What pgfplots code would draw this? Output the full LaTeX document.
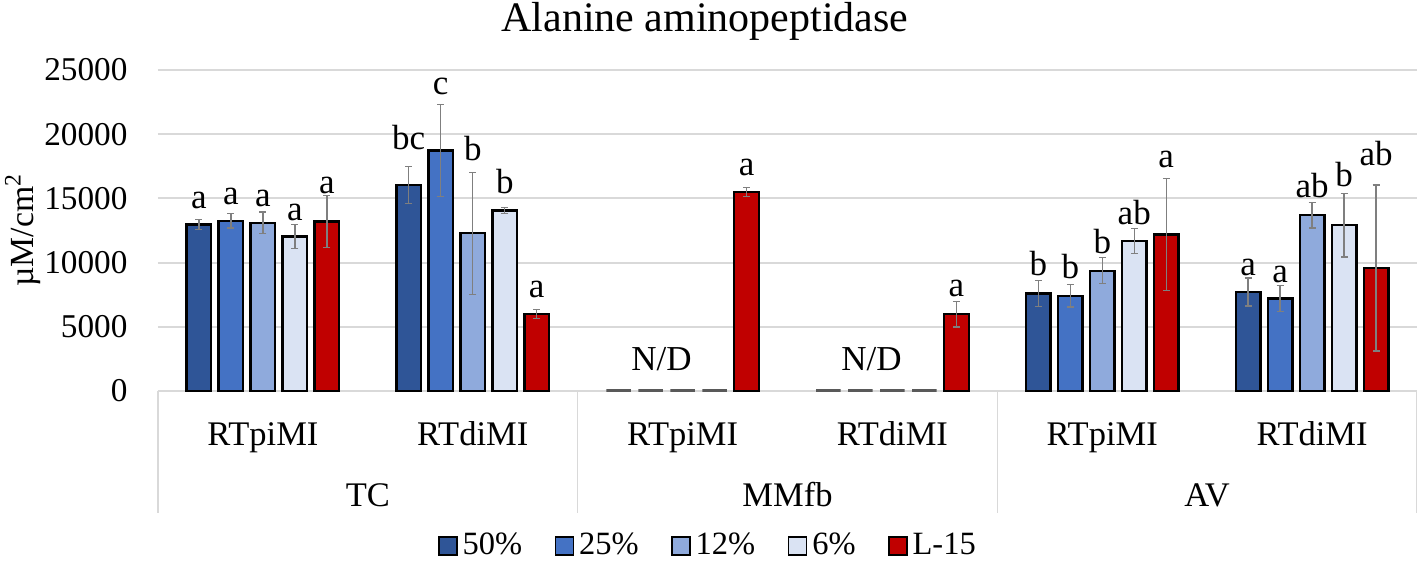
\documentclass[border=0pt]{standalone}
\usepackage{fontspec}
\setmainfont{Liberation Serif}
\usepackage{pgfplots}
\pgfplotsset{compat=1.18}
\usepackage{pgfplotstable}
\definecolor{c50}{HTML}{2F5597}
\definecolor{c25}{HTML}{4472C4}
\definecolor{c12}{HTML}{8FAADC}
\definecolor{c6}{HTML}{DAE3F3}
\definecolor{cL}{HTML}{C00000}
\definecolor{gridc}{HTML}{D9D9D9}
\definecolor{errc}{HTML}{7F7F7F}
\definecolor{ndc}{HTML}{595959}

\pgfplotstableread{
x y e
-0.305 12970 390
0.695 16030 1430
3.695 7580 1000
4.695 7710 1100
}\tfifty
\pgfplotstableread{
x y e
-0.1525 13250 550
0.8475 18720 3580
3.8475 7420 880
4.8475 7190 1000
}\ttwentyfive
\pgfplotstableread{
x y e
0 13100 850
1 12290 4750
4 9370 1000
5 13690 1000
}\ttwelve
\pgfplotstableread{
x y e
0.1525 12030 950
1.1525 14060 250
4.1525 11660 980
5.1525 12910 2470
}\tsix
\pgfplotstableread{
x y e
0.305 13200 2000
1.305 5990 370
2.305 15490 340
3.305 5990 1000
4.305 12180 4360
5.305 9580 6470
}\tL
\pgfplotstableread{
x y
1.695 0
1.8475 0
2 0
2.1525 0
2.695 0
2.8475 0
3 0
3.1525 0
}\tnd
\pgfplotstableread{
x y lab
-0.305 14140 a
-0.1525 14470 a
0 14320 a
0.1525 13220 a
0.305 15310 a
0.695 18770 bc
0.8475 22990 c
1 17910 b
1.1525 15310 b
1.305 7240 a
1.9 1510 N/D
2.305 16690 a
2.9 1510 N/D
3.305 7320 a
3.695 8930 b
3.8475 8670 b
4 10680 b
4.1525 12910 ab
4.305 17340 a
4.695 8930 a
4.8475 8410 a
5 14970 ab
5.1525 15830 b
5.305 17470 ab
}\tlab

\pgfplotsset{
  barsq/.style={
    ybar, bar shift=0pt, draw=black, line width=0.95pt, fill=#1,
    legend image code/.code={\draw[fill=#1, draw=black, line width=0.6pt] (0pt,-3.6pt) rectangle (7.2pt,3.6pt);},
    error bars/.cd, y dir=both, y explicit,
    error bar style={errc, line width=0.5pt},
    error mark options={errc, rotate=90, mark size=1.4pt, line width=0.5pt}
  }
}

\begin{document}
\begin{tikzpicture}
\begin{axis}[name=ax, scale only axis, width=503.6pt, height=128.4pt,
  xmin=-0.5, xmax=5.5, ymin=0, ymax=25000, clip=false,
  ytick={0,5000,...,25000}, xtick={0,...,5},
  xticklabels={RTpiMI,RTdiMI,RTpiMI,RTdiMI,RTpiMI,RTdiMI},
  ymajorgrids, grid style={gridc, line width=0.8pt},
  axis line style={draw=none}, major tick style={draw=none},
  /pgf/number format/assume math mode=true, /pgf/number format/1000 sep={},
  scaled y ticks=false,
  yticklabel style={anchor=east, inner sep=0pt, xshift=-12pt, font=\fontsize{13.3}{16}\selectfont},
  xticklabel style={anchor=base, inner sep=0pt, yshift=-21.8pt, font=\fontsize{13.8}{16}\selectfont},
  legend style={at={(0.438,-0.483)}, anchor=center, draw=none, fill=none,
    legend columns=5, font=\fontsize{13}{15}\selectfont,
    /tikz/every even column/.append style={column sep=11pt}},
  bar width=0.117,
]
\addplot[barsq=c50] table[x=x,y=y,y error=e]{\tfifty};
\addlegendentry{50\%}
\addplot[barsq=c25] table[x=x,y=y,y error=e]{\ttwentyfive};
\addlegendentry{25\%}
\addplot[barsq=c12] table[x=x,y=y,y error=e]{\ttwelve};
\addlegendentry{12\%}
\addplot[barsq=c6] table[x=x,y=y,y error=e]{\tsix};
\addlegendentry{6\%}
\addplot[barsq=cL] table[x=x,y=y,y error=e]{\tL};
\addlegendentry{L-15}
\addplot[ybar, bar shift=0pt, draw=ndc, line width=1.2pt, fill=none, forget plot] table[x=x,y=y]{\tnd};
\addplot[draw=none, mark=none, nodes near coords, point meta=explicit symbolic,
  nodes near coords style={anchor=south, inner sep=0pt, text=black, font=\fontsize{14}{16}\selectfont},
  forget plot] table[x=x,y=y,meta=lab]{\tlab};

\foreach \xx in {-0.5,1.5,3.5,5.5}{
  \edef\tmp{\noexpand\draw[gridc, line width=0.6pt] (axis cs:\xx,0) -- ([yshift=-48.8pt]axis cs:\xx,0);}
  \tmp
}
\node[anchor=base, font=\fontsize{13.8}{16}\selectfont] at ([yshift=-46.3pt]axis cs:0.5,0) {TC};
\node[anchor=base, font=\fontsize{13.8}{16}\selectfont] at ([yshift=-46.3pt]axis cs:2.5,0) {MMfb};
\node[anchor=base, font=\fontsize{13.8}{16}\selectfont] at ([yshift=-46.3pt]axis cs:4.5,0) {AV};
\end{axis}
\node[anchor=base, font=\fontsize{16.8}{20}\selectfont] at ([shift={(218.8pt,143.6pt)}]ax.south west) {Alanine aminopeptidase};
\node[rotate=90, anchor=center, font=\fontsize{13.5}{16}\selectfont] at ([shift={(-54pt,64.4pt)}]ax.south west) {µM/cm\textsuperscript{2}};
\pgfresetboundingbox
\path[use as bounding box] ([shift={(-63.2pt,-68pt)}]ax.south west) rectangle ([shift={(503.6pt,156.4pt)}]ax.south west);
\end{tikzpicture}
\end{document}
